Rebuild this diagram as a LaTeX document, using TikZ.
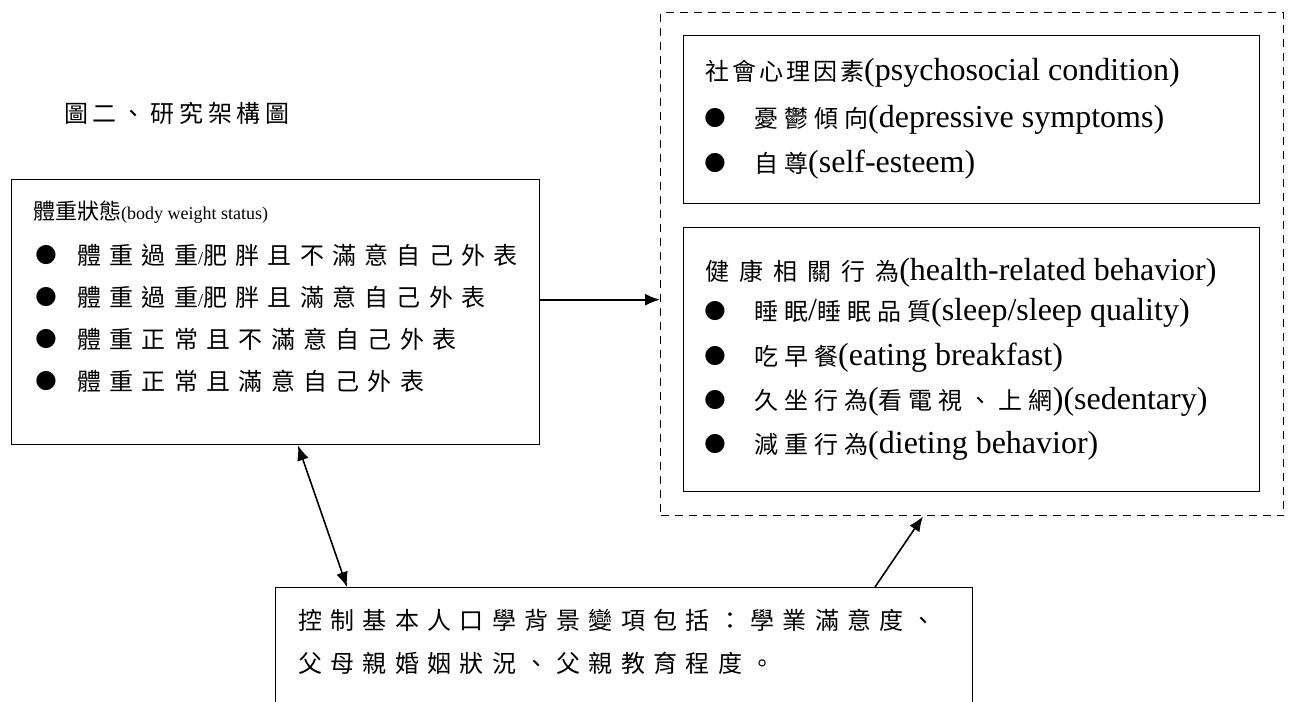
\documentclass[tikz,border=0pt]{standalone}
\usepackage{fontspec}
\setmainfont{Liberation Serif}
\newfontfamily\cjkL{Noto Sans CJK TC}
\newfontfamily\cjkS[LetterSpace=25]{Noto Sans CJK TC}
\newfontfamily\cjkB[LetterSpace=34.6]{Noto Sans CJK TC}
\newfontfamily\cjkP[LetterSpace=12.5]{Noto Sans CJK TC}
\newfontfamily\cjkH[LetterSpace=41.7]{Noto Sans CJK TC}
\newfontfamily\cjkT[LetterSpace=20]{Noto Sans CJK TC}
\newfontfamily\dvs{DejaVu Sans}
\usetikzlibrary{arrows.meta,calc}
\newcommand\zl[1]{{\cjkL\fontsize{22}{22}\selectfont #1}}
\newcommand\zs[1]{{\cjkS\fontsize{24}{24}\selectfont #1}}
\newcommand\zb[1]{{\cjkB\fontsize{24}{24}\selectfont #1}}
\newcommand\zp[1]{{\cjkP\fontsize{24}{24}\selectfont #1}}
\newcommand\zh[1]{{\cjkH\fontsize{24}{24}\selectfont #1}}
\newcommand\bul{{\dvs\fontsize{25}{25}\selectfont ●}}
\tikzset{
  box/.style={draw, line width=1.4pt, inner sep=0pt, anchor=north west},
  dbox/.style={draw, line width=1.4pt, dash pattern=on 8pt off 6pt, inner sep=0pt, anchor=north west},
  txtL/.style={anchor=base west, inner sep=0pt, font=\fontsize{18}{18}\selectfont},
  txtR/.style={anchor=base west, inner sep=0pt, font=\fontsize{32}{32}\selectfont},
  bulnode/.style={anchor=center, inner sep=0pt},
  arr/.style={line width=1.6pt, -{Latex[length=15pt,width=12pt]}},
  darr/.style={line width=1.6pt, {Latex[length=15pt,width=12pt]}-{Latex[length=15pt,width=12pt]}}
}
\begin{document}
\begin{tikzpicture}[x=1pt,y=-1pt]
\useasboundingbox[fill=white] (0,0) rectangle (1292,701);
\clip (0,0) rectangle (1292,701);
% title
\node[anchor=base west, inner sep=0pt, font=\fontsize{24}{24}\selectfont] (title) at (64,122) {{\cjkT 圖二、研究架構圖}};
% boxes
\node[box, minimum width=528pt, minimum height=265pt] (left) at (11,179) {};
\node[dbox, minimum width=623pt, minimum height=503pt] (dash) at (660,12) {};
\node[box, minimum width=576pt, minimum height=168pt] (psy) at (683,35) {};
\node[box, minimum width=576pt, minimum height=264pt] (hlt) at (683,227) {};
\node[box, minimum width=697pt, minimum height=140pt] (ctl) at (275,587) {};
% left box text
\node[txtL] (l0) at (33,219) {\zl{體重狀態}(body weight status)};
\node[bulnode] (lb1) at (46,255) {\bul};
\node[txtL] (l1) at (77,264) {\zb{體重過重}/\zb{肥胖且不滿意自己外表}};
\node[bulnode] (lb2) at (46,297) {\bul};
\node[txtL] (l2) at (77,306) {\zb{體重過重}/\zb{肥胖且滿意自己外表}};
\node[bulnode] (lb3) at (46,339) {\bul};
\node[txtL] (l3) at (77,348) {\zb{體重正常且不滿意自己外表}};
\node[bulnode] (lb4) at (46,381) {\bul};
\node[txtL] (l4) at (77,390) {\zb{體重正常且滿意自己外表}};
% psychosocial box
\node[txtR] (p0) at (705,81) {\zp{社會心理因素}(psychosocial condition)};
\node[bulnode] (pb1) at (715,118) {\bul};
\node[txtR] (p1) at (754,127) {\zs{憂鬱傾向}(depressive symptoms)};
\node[bulnode] (pb2) at (715,163) {\bul};
\node[txtR] (p2) at (754,172) {\zs{自尊}(self-esteem)};
% health box
\node[txtR] (h0) at (705,280) {\zh{健康相關行為}(health-related behavior)};
\node[bulnode] (hb1) at (715,311) {\bul};
\node[txtR] (h1) at (754,320) {\zs{睡眠}/\zs{睡眠品質}(sleep/sleep quality)};
\node[bulnode] (hb2) at (715,356) {\bul};
\node[txtR] (h2) at (754,365) {\zs{吃早餐}(eating breakfast)};
\node[bulnode] (hb3) at (715,400) {\bul};
\node[txtR] (h3) at (754,409) {\zs{久坐行為}(\zs{看電視、上網})(sedentary)};
\node[bulnode] (hb4) at (715,444) {\bul};
\node[txtR] (h4) at (754,453) {\zs{減重行為}(dieting behavior)};
% control box
\node[txtL] (c1) at (298,629) {\zb{控制基本人口學背景變項包括：學業滿意度、}};
\node[txtL] (c2) at (298,672) {\zb{父母親婚姻狀況、父親教育程度。}};
% connectors
\draw[arr] ([yshift=12.5pt]left.east) -- ([yshift=12.5pt]left.east -| dash.west);
\draw[darr] ([xshift=287pt]left.south west) -- ([xshift=72pt]ctl.north west);
\draw[arr] ([xshift=600pt]ctl.north west) -- ([xshift=263pt]dash.south west);
\end{tikzpicture}
\end{document}
